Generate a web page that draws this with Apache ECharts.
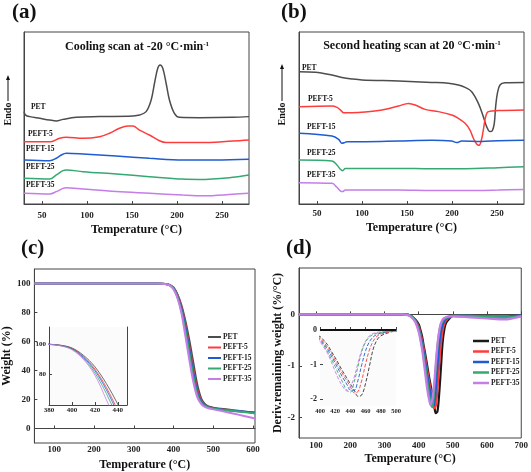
<!DOCTYPE html>
<html><head><meta charset="utf-8">
<script src="https://cdn.jsdelivr.net/npm/echarts@6/dist/echarts.min.js"></script>
<style>html,body{margin:0;padding:0;background:#fff}#c{width:531px;height:472px}</style>
</head><body><div id="c"></div>
<script>
// ---------- (a) Cooling scan DSC (arbitrary units, offset curves) ----------
const aT_PET = [30,31.8,36.3,47.4,58.5,65.9,73.3,88.1,114,150.9,158.3,165.7,171.3,175,178.6,181.2,184.2,187.9,191.6,197.1,202.7,224.9,261.8,280];
const aV_PET = [53.7,51.7,50.8,49.8,48.8,48.3,49.2,50.4,50.8,51.2,51.7,53.7,60.5,70.2,78.9,80.8,78.9,70.2,60.5,52.7,50.4,50.2,50.4,50.8];
const aT_P5  = [30,59.6,69.6,77,95.5,114,125,136.1,145.4,150.9,158.3,169.4,180.5,187.9,224.9,261.8,280];
const aV_P5  = [36.2,36.2,38.2,38.8,38.2,39.1,41.1,44,45.3,45.3,43,40.1,36.8,35.7,35.7,36.6,37.2];
const aT_P15 = [30,58.5,65.9,71.4,77,95.5,132.4,169.4,206.4,243.3,280];
const aV_P15 = [25.6,25.2,26.6,28.5,29.5,29.1,27.9,26.6,25.6,25.6,26];
const aT_P25 = [30,58.5,65.9,73.3,77,95.5,132.4,169.4,206.4,224.9,261.8,280];
const aV_P25 = [14.9,14.5,16.9,19.4,19.8,18.8,17.4,15.9,14.5,14.3,15.5,16.9];
const aT_P35 = [30,58.5,65.9,73.3,77,95.5,132.4,169.4,206.4,229,261.8,280];
const aV_P35 = [6.2,5.8,7.2,9.1,9.5,8.7,7.2,6.2,5.2,4.8,5.6,6.2];

// ---------- (b) Second heating scan DSC ----------
const bT_PET = [30,48.2,66.6,77.7,88.8,99.9,140.6,177.5,196,207.1,214.5,221.9,229.3,234.8,238.5,242.2,244.8,247,248.5,250.4,253.3,258.9,280];
const bV_PET = [76.9,76.6,75,73.6,72.7,72.1,71.5,70.7,70.2,69.2,67.8,65.3,58.5,50.8,45,42.1,42.6,46.9,56.6,64.3,69.2,70.5,70.7];
const bT_P5  = [30,66.6,72.2,75.9,79.6,88.8,103.6,122.1,140.6,151.7,159.1,170.1,184.9,199.7,207.1,214.5,220,223.7,227.4,230,232.2,234.8,237.4,240.4,251.5,280];
const bV_P5  = [56.6,57,56.2,54.7,53.1,53.1,53.5,54.7,57,58.5,57.6,55,53.7,51.7,49.8,46.9,43,38.2,34.9,34.1,36.2,43,50.8,53.7,54.3,54.7];
const bT_P15 = [30,66.6,74,77.7,80.7,83.3,103.6,140.6,177.5,199.7,205.3,210.8,233,251.5,280];
const bV_P15 = [41.1,39.5,37.6,35.3,35.7,36.2,36.2,36.6,37,36.6,35.7,36.6,36.4,36.8,37];
const bT_P25 = [30,66.6,72.2,75.9,78.5,81.4,88.8,140.6,177.5,214.5,251.5,280];
const bV_P25 = [25.6,25,22.7,20.2,19.4,20.7,20.7,20.7,20.5,20.5,21.1,21.7];
const bT_P35 = [30,66.6,72.2,75.9,78.5,81.4,88.8,140.6,177.5,214.5,251.5,280];
const bV_P35 = [12.4,12,9.7,7.6,7.2,8.1,8.1,8.1,7.8,7.8,8.1,8.5];

// ---------- (c) TGA weight (%) ----------
const tgaT    = [50,150,250,350,370,380,390,400,410,420,430,440,450,460,470,480,490,500,525,550,575,600,605];
const tgaPET  = [100,100,100,100,99.9,99.7,99.1,97.3,92.5,85.0,74.0,60.5,45.0,30.0,20.5,16.5,15.0,14.4,13.4,12.6,11.8,11.0,10.9];
const tgaP5   = [100,100,100,100,99.9,99.7,99.0,97.0,91.8,83.5,71.5,56.5,40.5,26.5,19.0,15.8,14.6,14.0,13.0,12.3,11.6,11.0,10.9];
const tgaP15  = [100,100,100,100,99.9,99.7,98.9,96.8,91.2,82.5,70.0,54.5,38.5,25.0,18.3,15.5,14.4,13.9,13.0,12.3,11.7,11.1,11.0];
const tgaP25  = [100,100,100,100,99.9,99.6,98.8,96.5,90.5,81.0,67.5,51.5,35.5,23.5,17.6,15.2,14.2,13.7,12.8,12.0,11.3,10.6,10.5];
const tgaP35  = [100,100,100,100,99.9,99.6,98.7,96.1,89.8,79.5,63.5,47.0,32.0,21.5,16.8,14.7,13.8,13.2,11.8,10.3,8.8,7.2,7.0];

// ---------- (d) DTG (%/°C) ----------
const dtgT    = [50,150,250,350,370,380,390,400,405,410,415,420,425,430,435,440,445,450,455,460,465,470,475,480,490,500,550,600,650,700];
const dtgPET  = [0,0,0,0,-0.01,-0.04,-0.10,-0.19,-0.30,-0.43,-0.62,-0.80,-1.00,-1.20,-1.38,-1.56,-1.74,-1.92,-1.88,-1.54,-1.05,-0.55,-0.29,-0.17,-0.08,-0.03,-0.04,-0.05,-0.06,-0.03];
const dtgP5   = [0,0,0,0,-0.01,-0.04,-0.11,-0.24,-0.36,-0.50,-0.68,-0.88,-1.08,-1.28,-1.46,-1.64,-1.82,-1.78,-1.45,-0.98,-0.58,-0.32,-0.18,-0.12,-0.06,-0.03,-0.04,-0.05,-0.05,-0.03];
const dtgP15  = [0,0,0,0,-0.01,-0.05,-0.12,-0.27,-0.40,-0.56,-0.75,-0.96,-1.17,-1.38,-1.56,-1.74,-1.75,-1.45,-1.00,-0.60,-0.34,-0.20,-0.13,-0.09,-0.05,-0.03,-0.03,-0.04,-0.04,-0.02];
const dtgP25  = [0,0,0,0,-0.01,-0.05,-0.13,-0.30,-0.45,-0.63,-0.84,-1.06,-1.30,-1.52,-1.74,-1.80,-1.50,-1.05,-0.62,-0.35,-0.20,-0.13,-0.09,-0.07,-0.04,-0.03,-0.03,-0.05,-0.06,-0.03];
const dtgP35  = [0,0,0,0,-0.02,-0.06,-0.15,-0.34,-0.50,-0.68,-0.93,-1.20,-1.45,-1.64,-1.76,-1.64,-1.37,-0.95,-0.58,-0.32,-0.17,-0.10,-0.07,-0.05,-0.04,-0.04,-0.06,-0.08,-0.10,-0.04];

// ---------- tick labels ----------
const dscTicks   = [50,100,150,200,250];
const tgaXTicks  = [100,200,300,400,500,600];
const tgaYTicks  = [0,20,40,60,80,100];
const dtgXTicks  = [100,200,300,400,500,600,700];
const dtgYTicks  = [-2,-1,0];
const insCXTicks = [380,400,420,440];
const insCYTicks = [80,100];
const insDXTicks = [400,420,440,460,480,500];
const insDYTicks = [-2,-1,0];

const names  = ['PET','PEFT-5','PEFT-15','PEFT-25','PEFT-35'];
const colors = ['#4d4d4d','#ff3c3c','#1f5bd1','#36a872','#c57de8'];
const FF = 'Liberation Serif';

const zip = (xs, ys) => xs.map((x, i) => [x, ys[i]]);

function ser(name, idx, data, color, width, extra) {
  return Object.assign({
    type: 'line', name: name, xAxisIndex: idx, yAxisIndex: idx, data: data,
    symbol: 'none', showSymbol: false, smooth: 0.35, lineStyle: { color: color, width: width },
    itemStyle: { color: color }, silent: true, animation: false
  }, extra || {});
}

const aSets = [[aT_PET,aV_PET],[aT_P5,aV_P5],[aT_P15,aV_P15],[aT_P25,aV_P25],[aT_P35,aV_P35]];
const bSets = [[bT_PET,bV_PET],[bT_P5,bV_P5],[bT_P15,bV_P15],[bT_P25,bV_P25],[bT_P35,bV_P35]];
const tgaSets = [tgaPET,tgaP5,tgaP15,tgaP25,tgaP35];
const dtgSets = [dtgPET,dtgP5,dtgP15,dtgP25,dtgP35];

const series = [];
tgaSets.forEach((v, i) => series.push(ser(names[i], 2, zip(tgaT, v), colors[i], 2)));
dtgSets.forEach((v, i) => series.push(ser(names[i] + ' ', 3, zip(dtgT, v), i === 0 ? '#1a1a1a' : colors[i], 2.2)));
aSets.forEach((s, i) => series.push(ser('a-' + names[i], 0, zip(s[0], s[1]), colors[i], 1.5)));
bSets.forEach((s, i) => series.push(ser('b-' + names[i], 1, zip(s[0], s[1]), colors[i], 1.5)));
tgaSets.forEach((v, i) => series.push(ser('ic-' + names[i], 4, zip(tgaT, v), colors[i], 0.8)));
dtgSets.forEach((v, i) => series.push(ser('id-' + names[i], 5, zip(dtgT, v), i === 0 ? '#333' : colors[i], 0.9,
  i === 0 ? { lineStyle: { color: '#333', width: 0.9, type: 'dashed' },
    markLine: { silent: true, symbol: 'none', animation: false, label: { show: false },
      lineStyle: { color: '#111', width: 2, type: 'solid' }, data: [{ yAxis: 0 }] } }
  : { lineStyle: { color: colors[i], width: 0.9, type: 'dashed' } })));

const lbl = (size, margin) => ({ fontFamily: FF, fontWeight: 'bold', fontSize: size, color: '#222', margin: margin });
const nameStyle = { fontFamily: FF, fontWeight: 'bold', fontSize: 12, color: '#111' };

function xAx(grid, min, max, ticks, size, margin, name, gap) {
  return { type: 'value', gridIndex: grid, min: min, max: max,
    axisLine: { show: true, lineStyle: { color: '#444', width: 1 } },
    axisTick: { show: true, inside: true, length: 3, customValues: ticks, lineStyle: { color: '#444' } },
    axisLabel: Object.assign({ customValues: ticks }, lbl(size, margin)),
    splitLine: { show: false },
    name: name || '', nameLocation: 'middle', nameGap: gap || 0, nameTextStyle: nameStyle };
}
function yAx(grid, min, max, ticks, size, margin, name, gap) {
  const show = !!ticks;
  return { type: 'value', gridIndex: grid, min: min, max: max,
    axisLine: { show: true, lineStyle: { color: '#444', width: 1 } },
    axisTick: { show: show, inside: true, length: 3, customValues: ticks || [], lineStyle: { color: '#444' } },
    axisLabel: Object.assign({ show: show, customValues: ticks || [] }, lbl(size, margin)),
    splitLine: { show: false },
    name: name || '', nameLocation: 'middle', nameGap: gap || 0, nameTextStyle: nameStyle };
}

const gridBox = { show: true, borderColor: '#444', borderWidth: 1, backgroundColor: 'transparent' };
const legendText = { fontFamily: FF, fontWeight: 'bold', fontSize: 7.5, color: '#222', padding: [0,0,0,-3] };
const option = {
  animation: false,
  backgroundColor: '#fff',
  grid: [
    Object.assign({ left: 24, top: 32, width: 225, height: 172 }, gridBox),
    Object.assign({ left: 299, top: 32, width: 225, height: 172 }, gridBox),
    Object.assign({ left: 30, top: 269, width: 225, height: 174 }, gridBox),
    Object.assign({ left: 299, top: 268, width: 224, height: 170 }, gridBox),
    { left: 49, top: 327, width: 78, height: 78, show: true, borderWidth: 0, backgroundColor: '#fbfbfb' },
    { left: 320, top: 330, width: 76, height: 76, show: true, borderWidth: 0, backgroundColor: '#fbfbfb' }
  ],
  xAxis: [
    xAx(0, 30, 280, dscTicks, 9, 7, 'Temperature (°C)', 20),
    xAx(1, 30, 280, dscTicks, 9, 5, 'Temperature (°C)', 18),
    xAx(2, 50, 605, tgaXTicks, 9, 2, 'Temperature (°C)', 16),
    xAx(3, 50, 700, dtgXTicks, 9, 3, 'Temperature (°C)', 15),
    xAx(4, 380, 448, insCXTicks, 7, 2),
    Object.assign(xAx(5, 400, 500, insDXTicks, 6.5, 2), { axisLine: { show: true, lineStyle: { color: '#bbb', width: 0.8 } } })
  ],
  yAxis: [
    yAx(0, 0, 100, null),
    yAx(1, 0, 100, null),
    yAx(2, -10, 110, tgaYTicks, 9, 4, 'Weight (%)', 17),
    yAx(3, -2.4, 0.9, dtgYTicks, 9, 4, 'Deriv.remaining weight (%/°C)', 14),
    yAx(4, 60, 111, insCYTicks, 7, 3),
    Object.assign(yAx(5, -2.2, 0, insDYTicks, 8, 3), { axisLine: { show: false } }),
    { type: 'value', gridIndex: 4, min: 60, max: 111, position: 'right',
      axisLine: { show: true, lineStyle: { color: '#444', width: 1 } },
      axisTick: { show: false }, axisLabel: { show: false }, splitLine: { show: false } }
  ],
  legend: [
    { data: names.map(n => ({ name: n, icon: 'rect' })), orient: 'vertical', left: 203, top: 328,
      itemWidth: 13, itemHeight: 2, itemGap: 2.5, selectedMode: false, textStyle: legendText },
    { data: names.map(n => ({ name: n + ' ', icon: 'rect' })), orient: 'vertical', left: 468, top: 332,
      itemWidth: 16, itemHeight: 2.5, itemGap: 2.5, selectedMode: false, formatter: n => n.trim(), textStyle: legendText }
  ],
  series: series,
  graphic: []
};

const G = option.graphic;
function txt(x, y, text, size, align, rot) {
  G.push({ type: 'text', x: x, y: y, rotation: rot || 0, silent: true,
    style: { text: text, font: 'bold ' + size + 'px "' + FF + '"', fill: '#111',
      textAlign: align || 'left', textVerticalAlign: 'middle' } });
}
// panel letters
txt(12, 13, '(a)', 21); txt(281, 13, '(b)', 21);
txt(21, 249, '(c)', 21); txt(286, 249, '(d)', 21);
// titles with superscript
function supTitle(x, y, main) {
  G.push({ type: 'text', x: x, y: y, silent: true,
    style: { text: '{m|' + main + '}{s|-1}', textAlign: 'center', textVerticalAlign: 'middle',
      rich: { m: { fontFamily: FF, fontWeight: 'bold', fontSize: 12, fill: '#111', color: '#111' },
              s: { fontFamily: FF, fontWeight: 'bold', fontSize: 7, fill: '#111', color: '#111', verticalAlign: 'top' } } } });
}
supTitle(137, 47, 'Cooling scan at -20 °C·min');
supTitle(412, 46, 'Second heating scan at 20 °C·min');
// Endo arrows
function endo(x, yText, yTop) {
  txt(x, yText, 'Endo', 10, 'center', Math.PI / 2);
  G.push({ type: 'line', silent: true, shape: { x1: x, y1: yText - 13, x2: x, y2: yTop + 3 }, style: { stroke: '#111', lineWidth: 1 } });
  G.push({ type: 'polygon', silent: true, shape: { points: [[x, yTop], [x - 2, yTop + 5], [x + 2, yTop + 5]] }, style: { fill: '#111' } });
}
endo(8, 114, 75);
endo(282, 114, 64);
// curve labels
const aLab = [[31, 107], [28, 134], [26, 149], [26, 167], [26, 185]];
const bLab = [[302, 68], [308, 99], [307, 127], [307, 153], [307, 175]];
names.forEach((n, i) => { txt(aLab[i][0], aLab[i][1], n, 7.5); txt(bLab[i][0], bLab[i][1], n, 7.5); });

const chart = echarts.init(document.getElementById('c'), null, { renderer: 'canvas' });
chart.setOption(option);
</script></body></html>
